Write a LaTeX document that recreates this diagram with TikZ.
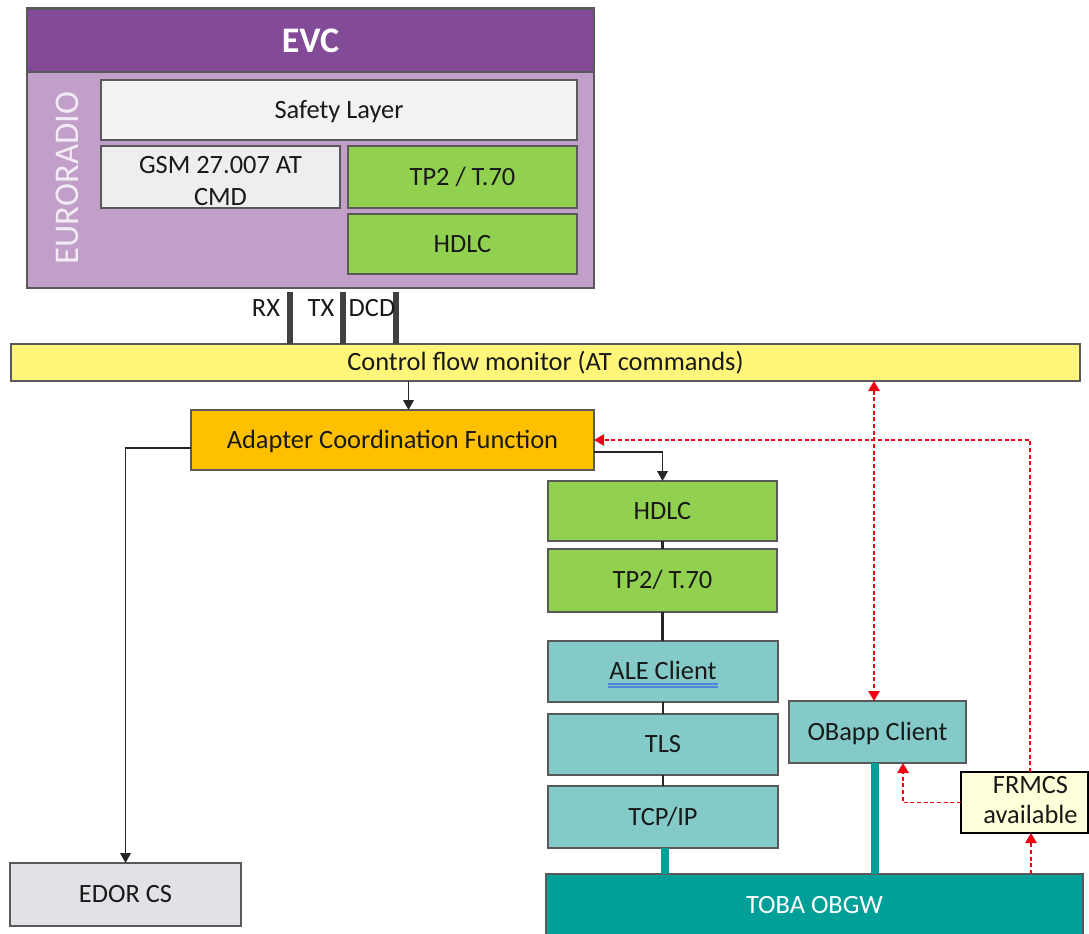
\documentclass[tikz,border=0pt]{standalone}
\usepackage{fontspec}
\setmainfont{Carlito}
\usetikzlibrary{arrows.meta,calc}

\definecolor{evcpurple}{RGB}{131,74,152}
\definecolor{evcbody}{RGB}{194,159,201}
\definecolor{euroText}{RGB}{242,234,244}
\definecolor{layerwhite}{RGB}{242,242,242}
\definecolor{gsmgray}{RGB}{237,238,240}
\definecolor{layergreen}{RGB}{146,208,80}
\definecolor{monyellow}{RGB}{255,246,122}
\definecolor{acforange}{RGB}{255,192,0}
\definecolor{edorgray}{RGB}{225,226,229}
\definecolor{tealLight}{RGB}{132,202,200}
\definecolor{tealDark}{RGB}{0,160,153}
\definecolor{frmcsfill}{RGB}{255,255,217}
\definecolor{boxline}{RGB}{89,89,89}
\definecolor{barline}{RGB}{64,64,64}
\definecolor{sigred}{RGB}{240,0,20}
\definecolor{spellblue}{RGB}{80,130,215}

\begin{document}
\begin{tikzpicture}[x=0.75pt,y=-0.75pt,
  wh/.style 2 args={minimum width=#1*0.75pt, minimum height=#2*0.75pt},
  box/.style={draw=boxline, line width=1.5pt, inner sep=0pt, outer sep=0pt,
    align=center, text=black!90, font=\fontsize{19.8}{24}\selectfont},
  oneline/.style={text height=14.7pt, text depth=2pt},
  pinlabel/.style={font=\fontsize{19.8}{24}\selectfont, text=black!90, inner sep=0pt},
  pinbar/.style={draw=barline, line width=4pt},
  flow/.style={draw=black!85, line width=1.1pt, -{Triangle[width=8pt,length=7.5pt]}},
  stackline/.style={draw=black!85, line width=2pt},
  tealbus/.style={draw=tealDark, line width=5.5pt},
  sig/.style={draw=sigred, line width=1.3pt, dash pattern=on 3pt off 2pt},
  sigtip/.style={-{Triangle[width=8.5pt,length=7.5pt]}},
  sigboth/.style={{Triangle[width=8.5pt,length=7.5pt]}-{Triangle[width=8.5pt,length=7.5pt]}}
]
\clip (0,0) rectangle (1089,933);

% ---- EVC block ----
\node[box, fill=evcbody, wh={567}{280}] (evcbody) at (310.5,148) {};
\node[box, fill=evcpurple, wh={567}{63}, text=white,
      font=\fontsize{27}{30}\selectfont\bfseries] (evchead) at (310.5,40.5) {EVC};
\node[rotate=90, text=euroText, inner sep=0pt,
      font=\fontsize{26}{28}\selectfont] (euro) at (67,178) {EURORADIO};
\node[box, oneline, fill=layerwhite, wh={476}{60}] (safety) at (339,110) {Safety Layer};
\node[box, fill=gsmgray, wh={239}{62}, font=\fontsize{19.8}{24.5}\selectfont]
      (gsm) at (220.5,177) {\rule{0pt}{19pt}GSM 27.007 AT\\CMD};
\node[box, oneline, fill=layergreen, wh={229}{62}] (tpa) at (462.5,177) {TP2 / T.70};
\node[box, oneline, fill=layergreen, wh={229}{60}] (hdlca) at (462.5,244) {HDLC};

% ---- control flow monitor ----
\node[box, oneline, fill=monyellow, wh={1069}{37}] (cfm) at (545.5,362.5) {Control flow monitor (AT commands)};

% interface pins between EVC and monitor
\coordinate (xrx) at (290,0);
\coordinate (xtx) at (343,0);
\coordinate (xdcd) at (396,0);
\draw[pinbar, shorten <=3pt] (evcbody.south -| xrx) -- (cfm.north -| xrx);
\draw[pinbar, shorten <=3pt] (evcbody.south -| xtx) -- (cfm.north -| xtx);
\draw[pinbar, shorten <=3pt] (evcbody.south -| xdcd) -- (cfm.north -| xdcd);
\node[pinlabel, oneline] (rx) at (266,308) {RX};
\node[pinlabel, oneline] (tx) at (321,308) {TX};
\node[pinlabel, oneline] (dcd) at (372,308) {DCD};

% ---- adapter ----
\node[box, oneline, fill=acforange, wh={403}{60}] (acf) at (392.5,440) {Adapter Coordination Function};
\node[box, oneline, fill=edorgray, wh={231}{63}] (edor) at (125.5,894.5) {EDOR CS};

% ---- FRMCS stack ----
\node[box, oneline, fill=layergreen, wh={229}{60}] (hdlcb) at (662.5,511) {HDLC};
\node[box, oneline, fill=layergreen, wh={229}{63}] (tpb) at (662.5,580.5) {TP2/ T.70};
\node[box, oneline, fill=tealLight, wh={230}{61}] (ale) at (663,671.5) {ALE Client};
\node[box, oneline, fill=tealLight, wh={230}{61}] (tls) at (663,744.5) {TLS};
\node[box, oneline, fill=tealLight, wh={230}{62}] (tcp) at (663,817) {TCP/IP};
\node[box, oneline, fill=tealLight, wh={177}{62}] (obapp) at (877.5,732) {OBapp Client};
\node[box, oneline, fill=tealDark, wh={537}{62}, text=white] (toba) at (814.5,905) {TOBA OBGW};
\node[box, draw=black, line width=2pt, fill=frmcsfill, wh={127}{61},
      font=\fontsize{19.8}{22.5}\selectfont] (frmcs) at (1024.5,802.5)
      {\hspace*{9pt}\begin{tabular}{@{}c@{}}FRMCS\\available\end{tabular}};

% double underline under the ALE label
\draw[spellblue, line width=0.9pt] ($(ale.center)+(-55,12.5)$) -- ($(ale.center)+(55,12.5)$);
\draw[spellblue, line width=0.9pt] ($(ale.center)+(-55,15.5)$) -- ($(ale.center)+(55,15.5)$);

% ---- control flow ----
\coordinate (xa) at (408.5,0);
\draw[flow] (cfm.south -| xa) -- (acf.north -| xa);
\draw[flow] ($(acf.west)+(0,8)$) -| (edor.north);
\draw[flow] ($(acf.east)+(0,12)$) -| (hdlcb.north);

% stack links
\draw[stackline] (hdlcb.south) -- (tpb.north);
\draw[stackline] (tpb.south) -- (tpb.south |- ale.north);
\draw[stackline] (ale.south) -- (tls.north);
\draw[stackline] (tls.south) -- (tcp.north);

% links to the on-board gateway
\coordinate (xtcp) at (665,0);
\coordinate (xob) at (875,0);
\draw[tealbus] (tcp.south -| xtcp) -- (toba.north -| xtcp);
\draw[tealbus] (obapp.south -| xob) -- (toba.north -| xob);

% ---- signalling (dashed red) ----
\coordinate (xr1) at (874,0);
\coordinate (xr2) at (1030,0);
\coordinate (xr3) at (903,0);
\coordinate (xr4) at (1031,0);
\draw[sig, sigboth] (cfm.south -| xr1) -- (obapp.north -| xr1);
\draw[sig, sigtip] (frmcs.north -| xr2) |- (acf.east);
\draw[sig, sigtip] (frmcs.west) -| (obapp.south -| xr3);
\draw[sig, sigtip] (toba.north -| xr4) -- (frmcs.south -| xr4);
\end{tikzpicture}
\end{document}
